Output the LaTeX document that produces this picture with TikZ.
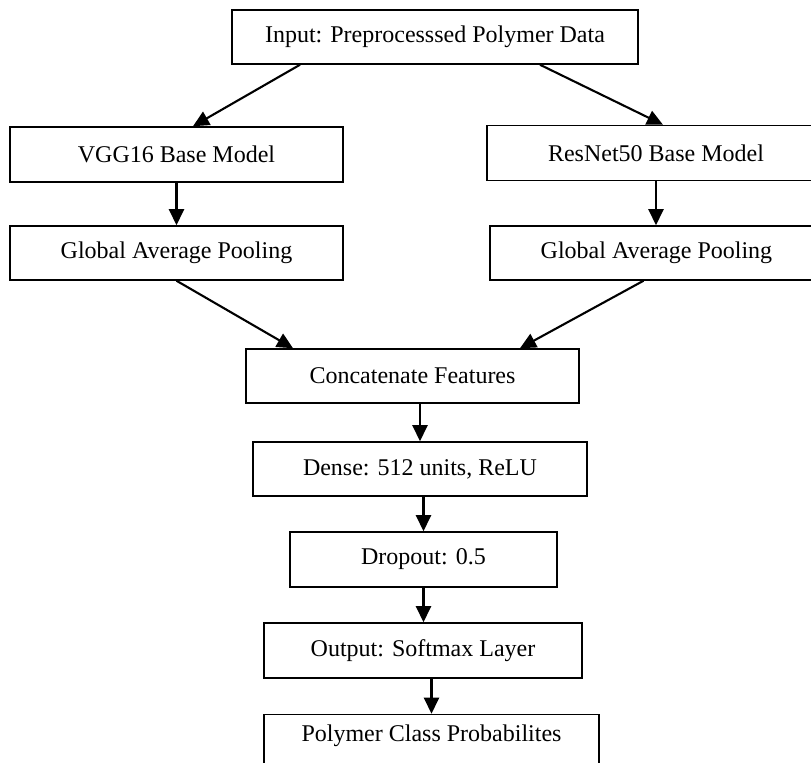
\documentclass[tikz,border=0pt]{standalone}
\usepackage{fontspec}
\setmainfont{Liberation Serif}
\usetikzlibrary{calc,arrows.meta}
\begin{document}
\begin{tikzpicture}[x=0.5pt,y=-0.5pt,
  box/.style={draw=black,line width=0.75pt,fill=white,minimum height=27.5pt,inner sep=0pt,
    font=\fontsize{12}{14}\selectfont},
  arr/.style={line width=1.05pt,-{Triangle[length=8pt,width=7.5pt]}}]
\useasboundingbox (0,0) rectangle (811,763);
\clip (0,0) rectangle (811,763);
\node[box,minimum width=203pt,minimum height=27pt] (input) at (435,37) {Input: Preprocesssed Polymer Data};
\node[box,minimum width=166.5pt] (vgg) at (176.5,154.5) {VGG16 Base Model};
\node[box,minimum width=169pt] (resnet) at (656,153) {ResNet50 Base Model};
\node[box,minimum width=166.5pt,minimum height=27pt] (gapl) at (176.5,253) {Global Average Pooling};
\node[box,minimum width=166.5pt,minimum height=27pt] (gapr) at (656.5,253) {Global Average Pooling};
\node[box,minimum width=166.5pt,minimum height=27pt] (concat) at (412.5,376) {Concatenate Features};
\node[box,minimum width=167pt,minimum height=27pt] (dense) at (420,469) {Dense: 512 units, ReLU};
\node[box,minimum width=133.5pt] (dropout) at (423.5,559.5) {Dropout: 0.5};
\node[box,minimum width=159pt] (output) at (423,650.5) {Output: Softmax Layer};
\node[box,minimum width=167.5pt,minimum height=28pt] (final) at (431.5,742.5) {};
\node[font=\fontsize{12}{14}\selectfont] (finaltext) at (431.5,736) {Polymer Class Probabilites};
\draw[arr] ($(input.south)+(-135,0)$) -- ($(vgg.north)+(16.5,0)$);
\draw[arr] ($(input.south)+(105,0)$) -- ($(resnet.north)+(7,0)$);
\draw[arr] (vgg.south) -- (gapl.north);
\draw[arr] (resnet.south) -- (resnet.south |- gapr.north);
\draw[arr] (gapl.south) -- ($(concat.north)+(-119.5,0)$);
\draw[arr] ($(gapr.south)+(-13,0)$) -- ($(concat.north)+(107.5,0)$);
\draw[arr] (concat.south -| dense.north) -- (dense.north);
\draw[arr] (dense.south -| dropout.north) -- (dropout.north);
\draw[arr] (dropout.south) -- (dropout.south |- output.north);
\draw[arr] (output.south -| final.north) -- (final.north);
\end{tikzpicture}
\end{document}
